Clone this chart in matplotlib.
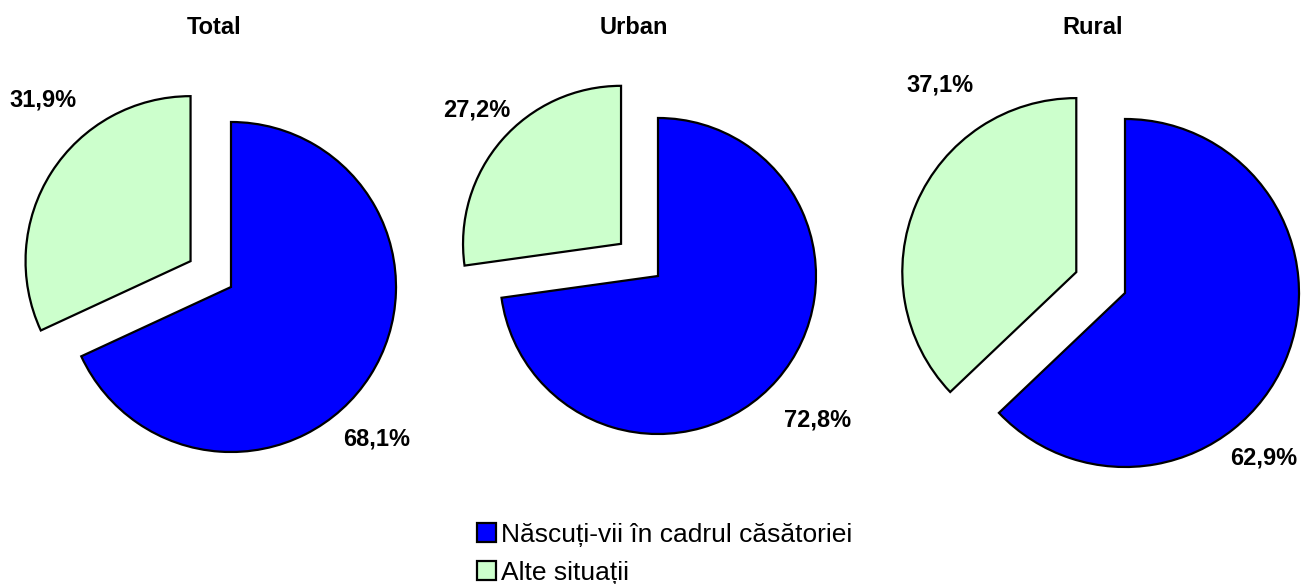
import matplotlib.pyplot as plt
from matplotlib.patches import Patch

W, H = 1301, 584

titles = ['Total', 'Urban', 'Rural']
categories = ['Născuți-vii în cadrul căsătoriei', 'Alte situații']
married = [68.1, 72.8, 62.9]
other = [31.9, 27.2, 37.1]
colors = ['#0000FF', '#CCFFCC']

# layout in pixels (y measured from top of the image)
centers = [(231, 287), (658, 276), (1125, 293)]
radii = [165, 158, 174]
explode_px = [48, 49, 53]
title_pos = [(214, 28), (634, 28), (1093, 28)]
married_lbl = [(377, 439), (818, 420), (1264, 458)]
other_lbl = [(43, 100), (477, 110), (940, 85)]

plt.rcParams['font.family'] = ['Liberation Sans', 'DejaVu Sans']

fig = plt.figure(figsize=(W / 100, H / 100), dpi=100)
ax = fig.add_axes([0, 0, 1, 1])

def fmt(v):
    return f'{v:.1f}%'.replace('.', ',')

for i in range(3):
    cx, cy = centers[i]
    wedges, _ = ax.pie([married[i], other[i]], colors=colors,
                       startangle=90, counterclock=False,
                       center=(cx, H - cy), radius=radii[i],
                       explode=[0, explode_px[i]],
                       wedgeprops=dict(edgecolor='black', linewidth=1.6))
    tx, ty = title_pos[i]
    ax.text(tx, H - ty, titles[i], ha='center', va='center',
            fontsize=17, fontweight='bold')
    mx, my = married_lbl[i]
    ax.text(mx, H - my, fmt(married[i]), ha='center', va='center',
            fontsize=17, fontweight='bold')
    ox, oy = other_lbl[i]
    ax.text(ox, H - oy, fmt(other[i]), ha='center', va='center',
            fontsize=17, fontweight='bold')

ax.set_xlim(0, W)
ax.set_ylim(0, H)
ax.set_aspect('equal')
ax.axis('off')

handles = [Patch(facecolor=c, edgecolor='black', linewidth=1.6) for c in colors]
fig.legend(handles, categories, loc='upper left',
           bbox_to_anchor=(477 / W, 1 - 523 / H), frameon=False,
           fontsize=19, borderpad=0, borderaxespad=0,
           handlelength=0.72, handleheight=0.72, handletextpad=0.2,
           labelspacing=0.53)

fig.savefig('out.png', dpi=100)
